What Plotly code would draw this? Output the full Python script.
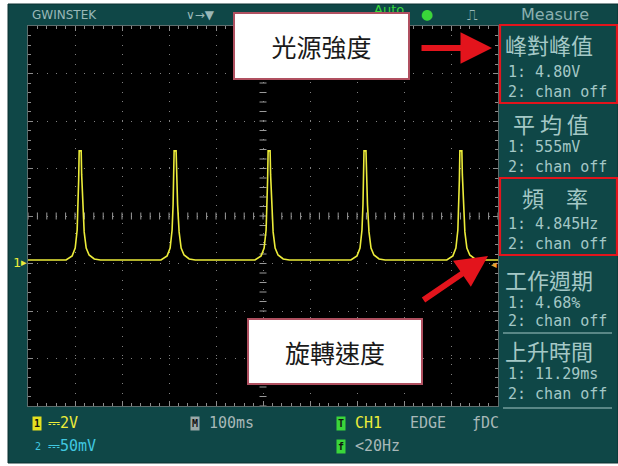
import plotly.graph_objects as go

W, H = 618, 466

# ---------------- data ----------------
peak_times_ms = [-389, -187, 13, 217, 421]          # time of each pulse peak (100 ms/div)
baseline_v = -1.85                                   # CH1 baseline level (V)
pulse_offsets_ms = [-30, -17, -10.6, -6.4, -4.3, -3.2, -2.1, 2.1, 3.2, 5.3, 8.5, 12.8, 19, 30, 43]
pulse_heights_v = [0, 0.17, 0.5, 1.26, 2.32, 3.37, 4.59, 4.59, 3.58, 2.32, 1.18, 0.5, 0.21, 0.04, 0]

measure_titles = ["峰對峰值", "平 均 值", "頻　率", "工作週期", "上升時間"]
ch1_values = ["4.80V", "555mV", "4.845Hz", "4.68%", "11.29ms"]
ch2_values = ["chan off", "chan off", "chan off", "chan off", "chan off"]
callout_labels = ["光源強度", "旋轉速度"]
time_range_ms = [-500, 500]
volt_range = [-8, 8]

# ---------------- helpers ----------------
def px(x):
    return x / W

def py(y):
    return 1 - y / H

TEAL = "#0f4747"
TXT = "#a4c8c6"
YEL = "#ecec3a"
RED = "#e3141c"

# build waveform from pulse readings
xs = [time_range_ms[0]]
ys = [baseline_v]
for t in peak_times_ms:
    for o, h in zip(pulse_offsets_ms, pulse_heights_v):
        xs.append(t + o)
        ys.append(baseline_v + h)
xs.append(time_range_ms[1])
ys.append(baseline_v)

fig = go.Figure()

# center cross minor marks
cx = [time_range_ms[0] + 20 * i for i in range(51)]
cy = [volt_range[0] + 0.4 * i for i in range(41)]
fig.add_trace(go.Scatter(x=cx, y=[0] * len(cx), mode="markers",
                         marker=dict(symbol="line-ns", size=5, line=dict(width=1, color="#9a9a9a")),
                         hoverinfo="skip", showlegend=False))
fig.add_trace(go.Scatter(x=[0] * len(cy), y=cy, mode="markers",
                         marker=dict(symbol="line-ew", size=5, line=dict(width=1, color="#9a9a9a")),
                         hoverinfo="skip", showlegend=False))

fig.add_trace(go.Scatter(x=xs, y=ys, mode="lines",
                         line=dict(color=YEL, width=1.6), showlegend=False))

fig.update_layout(
    width=W, height=H, autosize=False,
    margin=dict(l=0, r=0, t=0, b=0),
    paper_bgcolor="white", plot_bgcolor="black",
    showlegend=False,
)
axis_common = dict(showticklabels=False, zeroline=False, showgrid=True,
                   gridcolor="#808080", gridwidth=1, griddash="1px,8.4px",
                   ticks="inside", ticklen=5, tickcolor="#8c8c8c",
                   showline=True, linecolor="#5e6e6e", mirror="ticks")
fig.update_xaxes(range=time_range_ms, dtick=100, tick0=0,
                 domain=[px(28), px(498)],
                 minor=dict(dtick=20, ticks="inside", ticklen=3, tickcolor="#8c8c8c", showgrid=False),
                 **axis_common)
fig.update_yaxes(range=volt_range, dtick=2, tick0=0,
                 domain=[py(406), py(26)],
                 minor=dict(dtick=0.4, ticks="inside", ticklen=3, tickcolor="#8c8c8c", showgrid=False),
                 **axis_common)

shapes = [
    dict(type="rect", xref="paper", yref="paper", x0=px(8), x1=1, y0=py(463), y1=py(4),
         fillcolor=TEAL, line=dict(width=1, color="#0a3030"), layer="below"),
    dict(type="rect", xref="x domain", yref="y domain", x0=0, x1=1, y0=0, y1=1,
         fillcolor="black", line=dict(width=0), layer="below"),
]
# separators in measure panel
for yy in [333, 408]:
    shapes.append(dict(type="line", xref="paper", yref="paper", x0=px(503), x1=px(612),
                       y0=py(yy), y1=py(yy), line=dict(color=TXT, width=1.2)))
# red highlight boxes
for (y0, y1) in [(25, 103), (178, 255)]:
    shapes.append(dict(type="rect", xref="paper", yref="paper", x0=px(500), x1=px(617),
                       y0=py(y1), y1=py(y0), line=dict(color=RED, width=2.2), fillcolor="rgba(0,0,0,0)"))
fig.update_layout(shapes=shapes)

ann = []
MONO = "DejaVu Sans Mono"
CJK = "Noto Sans CJK TC"

def text(x, y, s, size, color, family=MONO, xanchor="left", **kw):
    ann.append(dict(xref="paper", yref="paper", x=px(x), y=py(y), text=s, showarrow=False,
                    xanchor=xanchor, yanchor="middle", font=dict(size=size, color=color, family=family), **kw))

# top bar
text(30, 15, "GWINSTEK", 12, "#9ab8b8", family="DejaVu Sans")
text(184, 15, "∨→▼", 12, "#9ab8b8", family="DejaVu Sans")
text(372, 10, "Auto", 13, "#3ad63a", family="DejaVu Sans")
text(427, 14, "●", 14, "#3ad63a", family="DejaVu Sans", xanchor="center")
text(465, 15, "⎍", 15, "#9ab8b8", family="DejaVu Sans")
text(519, 15, "Measure", 16, "#8cb0b0", family="DejaVu Sans")

# measure panel
title_x = [503, 511, 520, 503, 503]
title_y = [44, 123, 197, 279, 350]
v1_y = [72, 147, 224, 303, 374]
v2_y = [92, 167, 244, 321, 394]
for i in range(5):
    text(title_x[i], title_y[i], measure_titles[i], 22, TXT, family=CJK)
    text(506, v1_y[i], "1: " + ch1_values[i], 15, TXT)
    text(506, v2_y[i], "2: " + ch2_values[i], 15, TXT)

# left ground marker & right trigger marker
text(11, 262, "1", 13, YEL)
text(19, 262, "▸", 11, YEL, family="DejaVu Sans")
text(499, 264, "◂", 11, "#f0a030", family="DejaVu Sans", xanchor="right")

# bottom bar
def badge(x, y, s, bg):
    ann.append(dict(xref="paper", yref="paper", x=px(x), y=py(y), text=s, showarrow=False,
                    xanchor="center", yanchor="middle", bgcolor=bg, borderpad=1,
                    font=dict(size=10, color="#111", family="DejaVu Sans Mono")))

badge(37, 423, "<b>1</b>", "#e6e020")
text(46, 423, "⎓2V", 15, YEL)
text(33, 446, "2", 10, "#40c8e0")
text(46, 446, "⎓50mV", 15, "#40c8e0")
badge(195, 423, "<b>M</b>", "#9aa8a8")
text(207, 423, "100ms", 15, "#a8b8b8")
badge(341, 423, "<b>T</b>", "#3ad63a")
text(353, 423, "CH1", 15, YEL)
text(408, 423, "EDGE", 15, "#a8b8b8")
text(470, 423, "ƒDC", 15, "#a8b8b8")
badge(341, 446, "<b>f</b>", "#3ad63a")
text(353, 446, "<20Hz", 15, "#a8b8b8")

# callout boxes
for (cxp, cyp, wbox, hbox), lab in zip([(321.5, 46.5, 173, 64), (335, 351.5, 172, 63)], callout_labels):
    ann.append(dict(xref="paper", yref="paper", x=px(cxp), y=py(cyp), text=lab, showarrow=False,
                    xanchor="center", yanchor="middle", width=wbox, height=hbox,
                    bgcolor="white", bordercolor="#b05060", borderwidth=2, borderpad=0,
                    font=dict(size=25, color="#1a1a1a", family=CJK)))

# red arrows
ann.append(dict(xref="paper", yref="paper", x=px(492), y=py(48), ax=-72, ay=0, text="",
                showarrow=True, arrowhead=2, arrowsize=1.05, arrowwidth=6, arrowcolor=RED))
ann.append(dict(xref="paper", yref="paper", x=px(488), y=py(256), ax=-66, ay=45, text="",
                showarrow=True, arrowhead=2, arrowsize=1.05, arrowwidth=6, arrowcolor=RED))

fig.update_layout(annotations=ann)
fig.write_html("out.html", config={"displayModeBar": False},
               post_script="document.body.style.margin='0';document.body.style.overflow='hidden';")
